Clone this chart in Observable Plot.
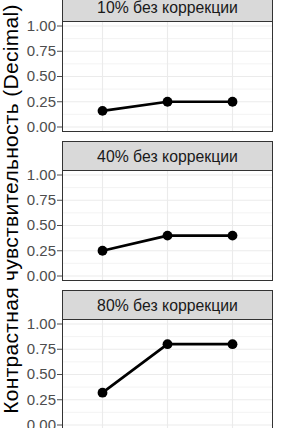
<!DOCTYPE html>
<html>
<head>
<meta charset="utf-8">
<script src="https://cdn.jsdelivr.net/npm/d3@7"></script>
<script src="https://cdn.jsdelivr.net/npm/@observablehq/plot@0.6"></script>
<style>
  html, body { margin: 0; padding: 0; overflow: hidden; background: white; }
  #wrap { position: relative; width: 282px; height: 428px; overflow: hidden; background: white; }
  #chart svg { display: block; }
  #ytitle {
    position: absolute; left: 0; top: 0;
    width: 416px; height: 22px; line-height: 22px;
    text-align: center; white-space: nowrap;
    font-family: "Liberation Sans", Arial, sans-serif; font-size: 21px; letter-spacing: 0.3px; color: #000;
    transform-origin: 0 0;
    transform: translate(-0.5px, 417px) rotate(-90deg);
  }
</style>
</head>
<body>
<div id="wrap">
  <div id="chart"></div>
  <div id="ytitle">Контрастная чувствительность (Decimal)</div>
</div>
<script>
// ---- data ----
const panels = ["10% без коррекции", "40% без коррекции", "80% без коррекции"];
const visits = ["1", "2", "3"];               // x categories (their labels lie outside the visible crop)
const values10 = [0.16, 0.25, 0.25];
const values40 = [0.25, 0.40, 0.40];
const values80 = [0.32, 0.80, 0.80];
const yTicks = [0, 0.25, 0.5, 0.75, 1];
const yMinor = [0.125, 0.375, 0.625, 0.875];

const seriesByPanel = [values10, values40, values80];
const rows = panels.flatMap((p, i) => visits.map((v, j) => ({panel: p, visit: v, value: seriesByPanel[i][j]})));

const chart = Plot.plot({
  width: 282,
  height: 440,
  marginTop: 21,
  marginBottom: 11,
  marginLeft: 62,
  marginRight: 10,
  style: {fontFamily: "'Liberation Sans', Arial, sans-serif", fontSize: "15px", color: "#4D4D4D", background: "white"},
  facet: {data: rows, y: "panel"},
  fy: {domain: panels, axis: null, label: null, paddingInner: 39 / 149, paddingOuter: 0, round: false},
  x: {type: "point", domain: visits, padding: 0.6, axis: null},
  y: {domain: [0, 1], ticks: yTicks, tickFormat: d3.format(".2f"), insetTop: 4.5, insetBottom: 4.5, label: null, tickSize: 5, tickPadding: 1.5},
  marks: [
    Plot.ruleY(yMinor, {stroke: "#EBEBEB", strokeWidth: 0.6}),
    Plot.ruleY(yTicks, {stroke: "#EBEBEB", strokeWidth: 1.1}),
    Plot.ruleX(visits, {stroke: "#EBEBEB", strokeWidth: 1.1}),
    Plot.frame({stroke: "#333333", strokeWidth: 1}),
    Plot.line(rows, {x: "visit", y: "value", stroke: "black", strokeWidth: 2.7}),
    Plot.dot(rows, {x: "visit", y: "value", fill: "black", stroke: "none", r: 4.9}),
    Plot.frame({fill: "#D9D9D9", stroke: "#333333", strokeWidth: 1, insetTop: -29, insetBottom: 110}),
    Plot.text(rows, Plot.selectFirst({text: "panel", frameAnchor: "top", lineAnchor: "middle", dy: -13.5, fill: "#1A1A1A", fontSize: 15.8}))
  ]
});
document.getElementById("chart").appendChild(chart);
</script>
</body>
</html>
